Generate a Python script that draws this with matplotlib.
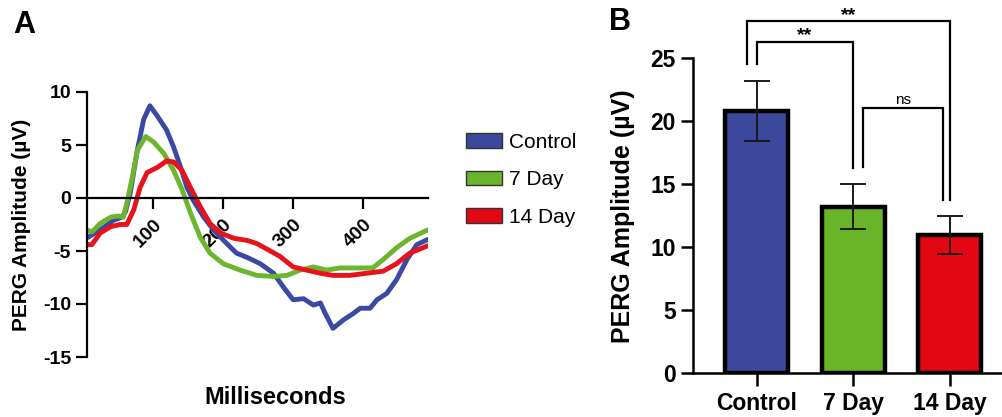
import matplotlib
matplotlib.use("Agg")
import matplotlib.pyplot as plt
from matplotlib.patches import Patch

plt.rcParams['font.family'] = ['Liberation Sans', 'DejaVu Sans']

# ---------------- data ----------------
series_names = ["Control", "7 Day", "14 Day"]
series_colors = ["#3A4AA3", "#6CB52D", "#E8121C"]
bar_colors = ["#3C489C", "#6AB42A", "#E30613"]

ctrl_t = [4, 24, 43, 55, 60, 67, 77, 86, 95, 105, 119, 129, 139, 148, 157, 172, 186, 205, 219,
          234, 253, 272, 286, 300, 315, 329, 339, 346, 357, 372, 386, 396, 410, 420, 434, 448,
          463, 477, 493]
ctrl_v = [-3.8, -3.0, -2.1, -1.8, -1.3, 0.5, 4.5, 7.4, 8.7, 7.8, 6.4, 4.8, 2.9, 1.0, -0.2, -1.8,
          -3.0, -4.3, -5.2, -5.6, -6.2, -7.1, -8.4, -9.6, -9.5, -10.1, -9.9, -10.9, -12.3, -11.5,
          -10.9, -10.4, -10.4, -9.6, -9.0, -7.7, -5.8, -4.4, -3.9]

day7_t = [4, 12, 24, 39, 50, 57, 62, 70, 77, 89, 100, 115, 129, 141, 153, 167, 181, 200, 224,
          248, 272, 291, 310, 329, 348, 367, 396, 414, 429, 448, 467, 493]
day7_v = [-3.0, -3.2, -2.4, -1.8, -1.7, -1.8, -0.5, 2.0, 4.5, 5.8, 5.3, 4.2, 2.6, 0.8, -1.4,
          -3.7, -5.2, -6.2, -6.8, -7.3, -7.4, -7.3, -6.8, -6.5, -6.8, -6.6, -6.6, -6.6, -5.8,
          -4.7, -3.8, -3.0]

day14_t = [4, 12, 24, 39, 53, 62, 72, 81, 91, 106, 119, 129, 141, 153, 167, 181, 196, 215, 234,
           248, 262, 281, 300, 319, 339, 357, 381, 405, 429, 448, 467, 493]
day14_v = [-4.4, -4.4, -3.3, -2.7, -2.5, -2.5, -1.1, 1.0, 2.4, 2.9, 3.5, 3.4, 2.6, 1.0, -0.8,
           -2.4, -3.3, -3.8, -4.0, -4.3, -4.8, -5.5, -6.5, -6.8, -7.1, -7.3, -7.3, -7.1, -6.9,
           -6.2, -5.2, -4.5]

x_ticks_a = [100, 200, 300, 400]
y_ticks_a = [10, 5, 0, -5, -10, -15]

bar_means = [20.8, 13.2, 10.95]
bar_sems = [2.4, 1.8, 1.5]
y_ticks_b = [0, 5, 10, 15, 20, 25]
comparisons = [(0, 1, "**"), (0, 2, "**"), (1, 2, "ns")]

# ---------------- figure ----------------
fig = plt.figure(figsize=(10.03, 4.17), dpi=100)

# ---- Panel A ----
axA = fig.add_axes([87/1003, 1-357/417, (428-87)/1003, (357-92)/417])
for t, v, c in zip([ctrl_t, day7_t, day14_t], [ctrl_v, day7_v, day14_v], series_colors):
    axA.plot(t, v, color=c, lw=3.5, solid_capstyle='round', solid_joinstyle='round')
axA.set_xlim(5, 493)
axA.set_ylim(-15, 10)
axA.spines['top'].set_visible(False)
axA.spines['right'].set_visible(False)
axA.spines['bottom'].set_position(('data', 0))
axA.spines['left'].set_linewidth(1.6)
axA.spines['bottom'].set_linewidth(1.6)
axA.set_xticks(x_ticks_a)
axA.set_xticklabels([str(v) for v in x_ticks_a], rotation=45, ha='right', va='top',
                    rotation_mode='anchor', fontsize=14, fontweight='bold')
axA.set_yticks(y_ticks_a)
axA.set_yticklabels([str(v) for v in y_ticks_a], fontsize=14, fontweight='bold')
axA.tick_params(axis='both', width=1.6, length=8, direction='out')
axA.tick_params(axis='x', pad=5)

fig.text(275/1003, 1-398/417, "Milliseconds", ha='center', va='center',
         fontsize=17, fontweight='bold')
fig.text(22/1003, 1-224.5/417, "PERG Amplitude (µV)", ha='center', va='center',
         rotation=90, fontsize=15, fontweight='bold')
fig.text(24/1003, 1-25/417, "A", ha='center', va='center', fontsize=22, fontweight='bold')

handles = [Patch(facecolor=c, edgecolor='#333333', linewidth=1.0) for c in bar_colors]
fig.legend(handles, series_names, loc='upper left', bbox_to_anchor=(466/1003, 1-133/417),
           frameon=False, fontsize=15, handlelength=1.75, handleheight=0.72,
           handletextpad=0.3, labelspacing=0.88, borderpad=0, borderaxespad=0)

# ---- Panel B ----
axB = fig.add_axes([693/1003, 1-373/417, (1002-693)/1003, (373-58)/417])
xb = list(range(len(series_names)))
axB.bar(xb, bar_means, width=0.65, color=bar_colors, edgecolor='black', linewidth=3.2, zorder=2)
axB.errorbar(xb, bar_means, yerr=bar_sems, fmt='none', ecolor='#1a1a1a', elinewidth=1.4,
             capsize=9.5, capthick=1.4, zorder=3)
axB.set_xlim(-0.66, 2.54)
axB.set_ylim(0, 25)
axB.spines['top'].set_visible(False)
axB.spines['right'].set_visible(False)
axB.spines['left'].set_linewidth(1.8)
axB.spines['bottom'].set_linewidth(1.8)
axB.set_yticks(y_ticks_b)
axB.set_yticklabels([str(v) for v in y_ticks_b], fontsize=16.5, fontweight='bold')
axB.set_xticks(xb)
axB.set_xticklabels(series_names, fontsize=16.5, fontweight='bold')
axB.tick_params(axis='both', width=1.8, length=9, direction='out')
axB.tick_params(axis='x', pad=5)

fig.text(623/1003, 1-216/417, "PERG Amplitude (µV)", ha='center', va='center',
         rotation=90, fontsize=18, fontweight='bold')
fig.text(620/1003, 1-22/417, "B", ha='center', va='center', fontsize=22, fontweight='bold')

# significance brackets (layout: top height, x offsets of legs)
bracket_layout = {(0, 1): (26.3, 0.0, 0.0), (0, 2): (27.9, -0.1, 0.0), (1, 2): (21.0, 0.1, -0.07)}
for i, j, lab in comparisons:
    top, dxl, dxr = bracket_layout[(i, j)]
    xl, xr = xb[i] + dxl, xb[j] + dxr
    yl = bar_means[i] + bar_sems[i] + 1.35
    yr = bar_means[j] + bar_sems[j] + 1.25
    axB.plot([xl, xl, xr, xr], [yl, top, top, yr], color='black', lw=1.6,
             clip_on=False, solid_joinstyle='miter')
    if lab == "ns":
        axB.text((xl + xr) / 2, top + 0.15, lab, ha='center', va='bottom', fontsize=11,
                 clip_on=False)
    else:
        axB.text((xl + xr) / 2, top + 0.5, lab, ha='center', va='center', fontsize=14,
                 fontweight='bold', clip_on=False)

fig.savefig("out.png", dpi=100)
